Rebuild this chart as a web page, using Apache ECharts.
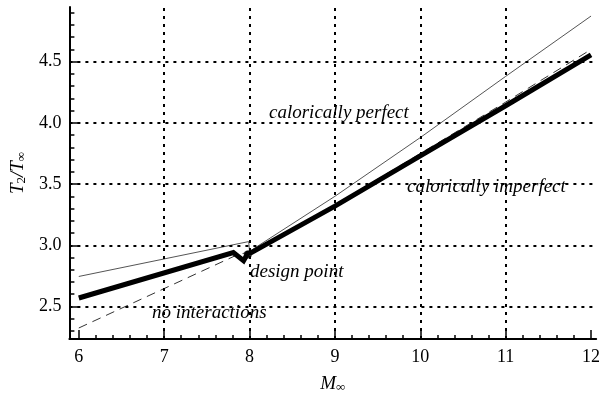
<!DOCTYPE html>
<html>
<head>
<meta charset="utf-8">
<script src="https://cdn.jsdelivr.net/npm/echarts@6/dist/echarts.min.js"></script>
<style>html,body{margin:0;padding:0;background:#fff}#c{width:603px;height:400px}</style>
</head>
<body>
<div id="c"></div>
<script>
// ---- data ----
var xMajorTicks = [6, 7, 8, 9, 10, 11, 12];
var xMinorTicks = [6.2, 6.4, 6.6, 6.8, 7.2, 7.4, 7.6, 7.8, 8.2, 8.4, 8.6, 8.8, 9.2, 9.4, 9.6, 9.8,
                   10.2, 10.4, 10.6, 10.8, 11.2, 11.4, 11.6, 11.8];
var yMajorTicks = [2.5, 3.0, 3.5, 4.0, 4.5];
var yMinorTicks = [2.3, 2.4, 2.6, 2.7, 2.8, 2.9, 3.1, 3.2, 3.3, 3.4, 3.6, 3.7, 3.8, 3.9,
                   4.1, 4.2, 4.3, 4.4, 4.6, 4.7, 4.8, 4.9];
var xGridLines = [7, 8, 9, 10, 11];
var yGridLines = [2.5, 3.0, 3.5, 4.0, 4.5];

// calorically imperfect (with interactions) - thick line
var imperfectX = [6.0, 7.81, 7.93, 7.98, 8.02, 9.0, 10.0, 11.0, 12.0];
var imperfectY = [2.569, 2.941, 2.873, 2.935, 2.94, 3.32, 3.73, 4.14, 4.555];
// calorically perfect - thin line
var perfectX = [6.0, 7.99, 8.0, 9.0, 10.0, 11.0, 12.0];
var perfectY = [2.745, 3.03, 2.95, 3.40, 3.88, 4.38, 4.873];
// no interactions - dashed line
var noInterX = [6.0, 7.85, 8.02, 9.0, 10.0, 11.0, 12.0];
var noInterY = [2.324, 2.92, 2.95, 3.33, 3.75, 4.17, 4.60];
// design point
var designPoint = [7.98, 2.925];

function pairs(xs, ys) { return xs.map(function (x, i) { return [x, ys[i]]; }); }

var FONT = '"Liberation Serif", "DejaVu Serif", serif';
var chart = echarts.init(document.getElementById('c'), null, {renderer: 'canvas'});
var XMIN = 5.89, XMAX = 12.06, YMIN = 2.234, YMAX = 4.947;

var gridStyle = {color: '#000', width: 2, type: [3, 5]};

chart.setOption({
  animation: false,
  backgroundColor: '#fff',
  grid: {left: 65, top: 7, width: 535, height: 332, containLabel: false},
  xAxis: [{
    type: 'value', min: XMIN, max: XMAX, position: 'bottom',
    axisLine: {show: true, onZero: false, lineStyle: {color: '#000', width: 2}},
    axisTick: {show: true, inside: true, length: 9, customValues: xMajorTicks, lineStyle: {color: '#000', width: 1.5}},
    axisLabel: {show: true, customValues: xMajorTicks, margin: 9, color: '#000', fontFamily: FONT, fontSize: 18,
      formatter: function (v) { return String(Math.round(v)); }},
    splitLine: {show: false},
    name: 'M{s|∞}', nameLocation: 'middle', nameGap: 34,
    nameTextStyle: {color: '#000', fontFamily: FONT, fontSize: 19, fontStyle: 'italic',
      rich: {s: {fontFamily: FONT, fontSize: 13, fontStyle: 'normal', verticalAlign: 'bottom', padding: [8, 0, 0, 0]}}}
  }, {
    type: 'value', min: XMIN, max: XMAX, position: 'bottom',
    axisLine: {show: false, onZero: false},
    axisTick: {show: true, inside: true, length: 4, customValues: xMinorTicks, lineStyle: {color: '#000', width: 1.5}},
    axisLabel: {show: false},
    splitLine: {show: false}
  }],
  yAxis: [{
    type: 'value', min: YMIN, max: YMAX, position: 'left',
    axisLine: {show: true, onZero: false, lineStyle: {color: '#000', width: 2}},
    axisTick: {show: true, inside: true, length: 9, customValues: yMajorTicks, lineStyle: {color: '#000', width: 1.5}},
    axisLabel: {show: true, customValues: yMajorTicks, margin: 8, color: '#000', fontFamily: FONT, fontSize: 18,
      formatter: function (v) { return v.toFixed(1); }},
    splitLine: {show: false},
    name: 'T{s|2}/T{s|∞}', nameLocation: 'middle', nameGap: 40, nameRotate: 90,
    nameTextStyle: {color: '#000', fontFamily: FONT, fontSize: 19, fontStyle: 'italic',
      rich: {s: {fontFamily: FONT, fontSize: 13, fontStyle: 'normal', verticalAlign: 'bottom', padding: [8, 0, 0, 0]}}}
  }, {
    type: 'value', min: YMIN, max: YMAX, position: 'left',
    axisLine: {show: false, onZero: false},
    axisTick: {show: true, inside: true, length: 5, customValues: yMinorTicks, lineStyle: {color: '#000', width: 1.5}},
    axisLabel: {show: false},
    splitLine: {show: false}
  }],
  series: [{
    type: 'line', name: 'grid', data: [], silent: true,
    markLine: {
      silent: true, symbol: 'none', label: {show: false}, animation: false,
      lineStyle: gridStyle, emphasis: {disabled: true},
      data: xGridLines.map(function (v) { return {xAxis: v}; })
        .concat(yGridLines.map(function (v) { return {yAxis: v}; }))
    }
  }, {
    type: 'line', name: 'calorically perfect', data: pairs(perfectX, perfectY),
    showSymbol: false, symbol: 'none', z: 3,
    lineStyle: {color: '#555', width: 1}
  }, {
    type: 'line', name: 'no interactions', data: pairs(noInterX, noInterY),
    showSymbol: false, symbol: 'none', z: 3,
    lineStyle: {color: '#333', width: 1, type: [9, 6]}
  }, {
    type: 'line', name: 'calorically imperfect', data: pairs(imperfectX, imperfectY),
    showSymbol: false, symbol: 'none', z: 4,
    lineStyle: {color: '#000', width: 5, join: 'miter'}
  }, {
    type: 'scatter', name: 'design point', data: [designPoint], symbolSize: 8, z: 5,
    itemStyle: {color: '#000'}
  }],
  graphic: [
    {type: 'text', x: 269, y: 113, z: 10, style: {text: 'calorically perfect', font: 'italic 19px ' + FONT, fill: '#000', textVerticalAlign: 'middle'}},
    {type: 'text', x: 407, y: 187, z: 10, style: {text: 'calorically imperfect', font: 'italic 19px ' + FONT, fill: '#000', textVerticalAlign: 'middle'}},
    {type: 'text', x: 250, y: 272, z: 10, style: {text: 'design point', font: 'italic 19px ' + FONT, fill: '#000', textVerticalAlign: 'middle'}},
    {type: 'text', x: 152, y: 313, z: 10, style: {text: 'no interactions', font: 'italic 19px ' + FONT, fill: '#000', textVerticalAlign: 'middle'}}
  ]
});
</script>
</body>
</html>
